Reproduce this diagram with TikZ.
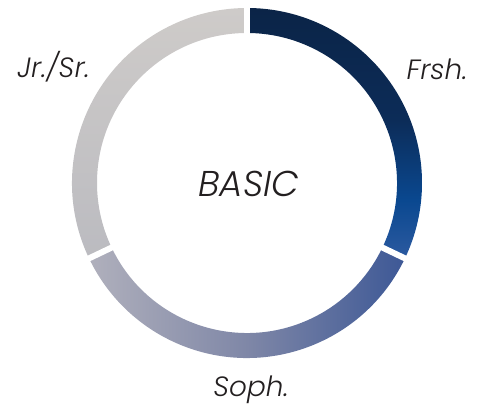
\documentclass[tikz,border=0pt]{standalone}
\usepackage{fontspec}
\usetikzlibrary{calc}
\newfontfamily\lab{Poppins Light Italic}
\definecolor{txt}{HTML}{231F20}
\definecolor{fA}{HTML}{0B2447}
\definecolor{fB}{HTML}{0C2C58}
\definecolor{fC}{HTML}{0A4890}
\definecolor{fD}{HTML}{2C5AA0}
\definecolor{sL}{HTML}{B0B0BC}
\definecolor{sM}{HTML}{7F87A7}
\definecolor{sR}{HTML}{3D5896}
\definecolor{jT}{HTML}{CECBC9}
\definecolor{jB}{HTML}{BBBBC0}
\pgfdeclareverticalshading{frshshade}{100bp}{color(0bp)=(fD); color(25bp)=(fD); color(36.6bp)=(fC); color(52.6bp)=(fB); color(75bp)=(fA); color(100bp)=(fA)}
\pgfdeclarehorizontalshading{sophshade}{100bp}{color(0bp)=(sL); color(25bp)=(sL); color(50bp)=(sM); color(75bp)=(sR); color(100bp)=(sR)}
\pgfdeclareverticalshading{jrshade}{100bp}{color(0bp)=(jB); color(25bp)=(jB); color(75bp)=(jT); color(100bp)=(jT)}
\begin{document}
\begin{tikzpicture}[x=1bp,y=1bp,
  lbl/.style={font=\lab\fontsize{28}{28}\selectfont, text=txt, anchor=base, inner sep=0pt},
  gapline/.style={draw=white, line width=6bp}]
\useasboundingbox (0,0) rectangle (482,408);
\coordinate (c) at (247,225);
\def\ro{175}
\def\ri{150}
% Frsh segment
\shade[shading=frshshade] (c) ++(90:\ro) arc[start angle=90, end angle=-25.5, radius=\ro]
  -- ({247+\ri*cos(-25.5)},{225+\ri*sin(-25.5)}) arc[start angle=-25.5, end angle=90, radius=\ri] -- cycle;
% Soph segment
\shade[shading=sophshade] (c) ++(-25.5:\ro) arc[start angle=-25.5, end angle=-154.5, radius=\ro]
  -- ({247+\ri*cos(-154.5)},{225+\ri*sin(-154.5)}) arc[start angle=-154.5, end angle=-25.5, radius=\ri] -- cycle;
% Jr./Sr. segment
\shade[shading=jrshade] (c) ++(205.5:\ro) arc[start angle=205.5, end angle=90, radius=\ro]
  -- ({247+\ri*cos(90)},{225+\ri*sin(90)}) arc[start angle=90, end angle=205.5, radius=\ri] -- cycle;
% gaps
\draw[gapline] ($(c)+(90:140)$) -- ($(c)+(90:185)$);
\draw[gapline] ($(c)+(-25.5:140)$) -- ($(c)+(-25.5:185)$);
\draw[gapline] ($(c)+(205.5:140)$) -- ($(c)+(205.5:185)$);
% labels
\node[lbl] (jr) at (53.5,331) {Jr./Sr.};
\node[lbl] (fr) at (437,328.7) {Frsh.};
\node[lbl] (so) at (251,11.3) {Soph.};
\node[lbl, font=\lab\fontsize{36}{36}\selectfont] (basic) at (248.7,211.3) {BASIC};
\end{tikzpicture}
\end{document}
